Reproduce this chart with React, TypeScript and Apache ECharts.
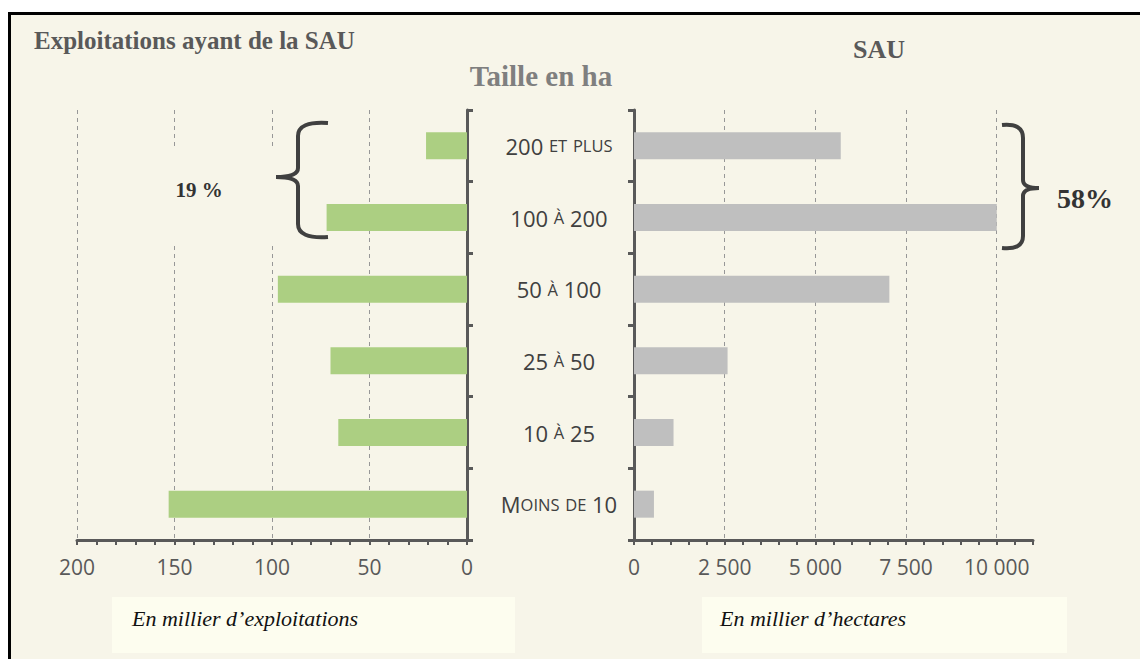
import React, { useEffect, useRef } from 'react';
import * as echarts from 'echarts';

// Size classes (ha)
const categories = ['200 et plus', '100 à 200', '50 à 100', '25 à 50', '10 à 25', 'Moins de 10'];
// Exploitations, en milliers
const exploitations = [21, 72, 97, 70, 66, 153];
// SAU, en milliers d'hectares
const sau = [5700, 10000, 7040, 2580, 1090, 550];
// Tick labels
const leftTicks = [0, 50, 100, 150, 200];
const rightTicks = [0, 2500, 5000, 7500, 10000];

const titleLeft = 'Exploitations ayant de la SAU';
const titleMid = 'Taille en ha';
const titleRight = 'SAU';
const shareLeft = '19 %';
const shareRight = '58%';
const unitLeft = 'En millier d\u2019exploitations';
const unitRight = 'En millier d\u2019hectares';

const BG = '#f7f5e9';
const AXIS = '#595959';
const GRIDC = '#979797';

const fmt = (v: number) => String(v).replace(/\B(?=(\d{3})+(?!\d))/g, ' ');

const smallCaps = (s: string) =>
  s.replace(/([a-zà-ÿ]+)|([^a-zà-ÿ]+)/g, (m: string, lo: string) =>
    lo ? `{s|${lo.toUpperCase()}}` : `{n|${m}}`
  );

let registered = false;
function registerBraces() {
  if (registered) return;
  registered = true;
  echarts.graphic.registerShape(
    'braceLeft',
    echarts.graphic.extendPath(
      'M328,123 Q298,121 298,136 L298,168 Q298,177 276,177 Q298,177 298,186 L298,224 Q298,239 328,237',
      {}
    )
  );
  echarts.graphic.registerShape(
    'braceRight',
    echarts.graphic.extendPath(
      'M1002,125 Q1023,123 1023,138 L1023,180 Q1023,188 1039,188 Q1023,188 1023,196 L1023,236 Q1023,250 1002,248',
      {}
    )
  );
}

export default function App() {
  const ref = useRef<HTMLDivElement>(null);

  useEffect(() => {
    if (!ref.current) return;
    registerBraces();
    const chart = echarts.init(ref.current, undefined, { renderer: 'svg' });

    const axisLine = { show: true, onZero: false, lineStyle: { color: AXIS, width: 3 } };
    const labelStyle = { color: AXIS, fontSize: 21, fontFamily: 'Open Sans', margin: 16 };
    const richLabel = {
      n: { fontSize: 22, color: '#404040', fontFamily: 'Open Sans' },
      s: { fontSize: 16.5, color: '#404040', fontFamily: 'Open Sans' },
    };
    const serif = 'Liberation Serif';

    const option: any = {
      animation: false,
      backgroundColor: 'transparent',
      grid: [
        { left: 77, right: 1140 - 467, top: 110, bottom: 659 - 540 },
        { left: 634, right: 1140 - 1033, top: 110, bottom: 659 - 540 },
      ],
      xAxis: [
        {
          gridIndex: 0, type: 'value', inverse: true, min: 0, max: 200, interval: 10,
          axisLine,
          axisTick: { show: true, length: 5, lineStyle: { color: AXIS, width: 2 } },
          axisLabel: { ...labelStyle, formatter: (v: number) => (leftTicks.includes(v) ? fmt(v) : '') },
          splitLine: { show: false },
        },
        {
          gridIndex: 0, type: 'value', inverse: true, min: 0, max: 200, interval: 50,
          axisLine: { show: false }, axisTick: { show: false }, axisLabel: { show: false },
          splitLine: { show: true, showMinLine: false, lineStyle: { color: GRIDC, width: 1, type: [4, 4] } },
        },
        {
          gridIndex: 1, type: 'value', min: 0, max: 11000, interval: 500,
          axisLine,
          axisTick: { show: true, length: 5, lineStyle: { color: AXIS, width: 2 } },
          axisLabel: { ...labelStyle, formatter: (v: number) => (rightTicks.includes(v) ? fmt(v) : '') },
          splitLine: { show: false },
        },
        {
          gridIndex: 1, type: 'value', min: 0, max: 11000, interval: 2500,
          axisLine: { show: false }, axisTick: { show: false }, axisLabel: { show: false },
          splitLine: { show: true, showMinLine: false, showMaxLine: false, lineStyle: { color: GRIDC, width: 1, type: [4, 4] } },
        },
      ],
      yAxis: [
        {
          gridIndex: 0, type: 'category', inverse: true, data: categories, position: 'right',
          axisLine,
          axisTick: { show: true, length: 6, lineStyle: { color: AXIS, width: 3 } },
          axisLabel: { align: 'center', margin: 92, formatter: smallCaps, rich: richLabel },
          splitLine: { show: false },
        },
        {
          gridIndex: 1, type: 'category', inverse: true, data: categories, position: 'left',
          axisLine,
          axisTick: { show: true, length: 6, lineStyle: { color: AXIS, width: 3 } },
          axisLabel: { show: false },
          splitLine: { show: false },
        },
      ],
      series: [
        {
          type: 'bar', name: 'Exploitations', xAxisIndex: 0, yAxisIndex: 0,
          data: exploitations, barWidth: 27, itemStyle: { color: '#accf82' },
        },
        {
          type: 'bar', name: 'SAU', xAxisIndex: 2, yAxisIndex: 1,
          data: sau, barWidth: 27, itemStyle: { color: '#bfbfbf' },
        },
      ],
      graphic: [
        {
          type: 'text', x: 34, y: 40, z: 50,
          style: { text: titleLeft, fill: '#595959', font: `bold 25px "${serif}"`, textAlign: 'left', textVerticalAlign: 'middle' },
        },
        {
          type: 'text', x: 541, y: 76, z: 50,
          style: { text: titleMid, fill: '#7f7f7f', font: `bold 29px "${serif}"`, textAlign: 'center', textVerticalAlign: 'middle' },
        },
        {
          type: 'text', x: 879, y: 49, z: 50,
          style: { text: titleRight, fill: '#595959', font: `bold 26px "${serif}"`, textAlign: 'center', textVerticalAlign: 'middle' },
        },
        {
          type: 'rect', z: 40, shape: { x: 150, y: 147, width: 125, height: 98 },
          style: { fill: BG },
        },
        {
          type: 'text', x: 199, y: 190, z: 50,
          style: { text: shareLeft, fill: '#333333', font: `bold 21px "${serif}"`, textAlign: 'center', textVerticalAlign: 'middle' },
        },
        {
          type: 'text', x: 1085, y: 198, z: 50,
          style: { text: shareRight, fill: '#333333', font: `bold 28px "${serif}"`, textAlign: 'center', textVerticalAlign: 'middle' },
        },
        {
          type: 'braceLeft', x: 0, y: 0, z: 50,
          style: { fill: 'none', stroke: '#404040', lineWidth: 4 },
        },
        {
          type: 'braceRight', x: 0, y: 0, z: 50,
          style: { fill: 'none', stroke: '#404040', lineWidth: 4 },
        },
        {
          type: 'rect', z: 40, shape: { x: 112, y: 597, width: 403, height: 56 },
          style: { fill: '#fdfdef' },
        },
        {
          type: 'text', x: 132, y: 618, z: 50,
          style: { text: unitLeft, fill: '#111111', font: `italic 22px "${serif}"`, textAlign: 'left', textVerticalAlign: 'middle' },
        },
        {
          type: 'rect', z: 40, shape: { x: 702, y: 597, width: 365, height: 56 },
          style: { fill: '#fdfdef' },
        },
        {
          type: 'text', x: 720, y: 618, z: 50,
          style: { text: unitRight, fill: '#111111', font: `italic 22px "${serif}"`, textAlign: 'left', textVerticalAlign: 'middle' },
        },
      ],
    };

    chart.setOption(option);
    return () => chart.dispose();
  }, []);

  return (
    <div style={{ position: 'absolute', left: 0, top: 0, width: 1140, height: 659, background: '#ffffff', overflow: 'hidden' }}>
      <div
        style={{
          position: 'absolute', left: 8, top: 12, width: 1160, height: 680,
          borderTop: '3px solid #000', borderLeft: '3px solid #000', background: BG,
        }}
      />
      <div ref={ref} style={{ position: 'absolute', left: 0, top: 0, width: 1140, height: 659 }} />
    </div>
  );
}
